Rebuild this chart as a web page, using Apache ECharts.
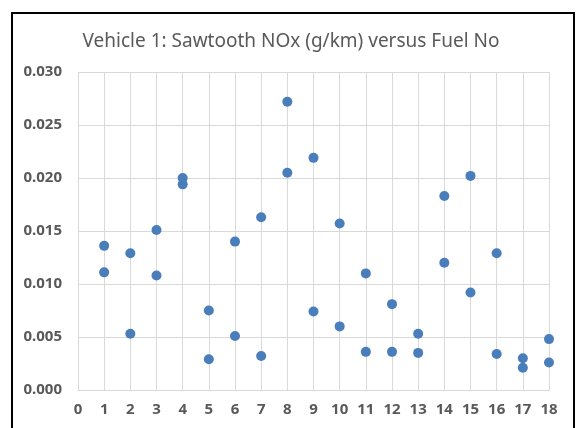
<!DOCTYPE html>
<html>
<head>
<meta charset="utf-8">
<script src="https://cdn.jsdelivr.net/npm/echarts@6/dist/echarts.min.js"></script>
<style>
  html, body { margin: 0; padding: 0; background: #fff; }
  #chart { width: 582px; height: 428px; }
</style>
</head>
<body>
<div id="chart"></div>
<script>
	// 燃料编号 (x) 和 NOx 值 (y), 每个燃料两次测量
	var fuelNo = [1, 1, 2, 2, 3, 3, 4, 4, 5, 5, 6, 6, 7, 7, 8, 8, 9, 9,
		10, 10, 11, 11, 12, 12, 13, 13, 14, 14, 15, 15, 16, 16, 17, 17, 18, 18];
	var noxValues = [0.0136, 0.0111, 0.0129, 0.0053, 0.0151, 0.0108, 0.0200, 0.0194,
		0.0075, 0.0029, 0.0140, 0.0051, 0.0163, 0.0032, 0.0272, 0.0205,
		0.0219, 0.0074, 0.0157, 0.0060, 0.0110, 0.0036, 0.0081, 0.0036,
		0.0053, 0.0035, 0.0183, 0.0120, 0.0202, 0.0092, 0.0129, 0.0034,
		0.0030, 0.0021, 0.0048, 0.0026];
	var yTicks = [0, 0.005, 0.010, 0.015, 0.020, 0.025, 0.030];

	var points = [];
	for (var i = 0; i < fuelNo.length; i++) {
		points.push([fuelNo[i], noxValues[i]]);
	}

	var myChart = echarts.init(document.getElementById('chart'));
	var labelFont = 'Noto Sans';

	var option = {
		animation: false,
		backgroundColor: '#ffffff',
		title: {
			text: 'Vehicle 1: Sawtooth NOx (g/km) versus Fuel No',
			left: 'center',
			top: 27,
			textStyle: {
				fontFamily: labelFont,
				fontSize: 19,
				fontWeight: 'normal',
				color: '#595959'
			}
		},
		grid: {
			left: 78,
			right: 33,
			top: 72,
			bottom: 38
		},
		xAxis: {
			type: 'value',
			min: 0,
			max: 18,
			interval: 1,
			axisLine: { show: true, lineStyle: { color: '#d9d9d9', width: 1 } },
			axisTick: { show: false },
			splitLine: { show: true, lineStyle: { color: '#d9d9d9', width: 1 } },
			axisLabel: {
				margin: 12,
				fontFamily: labelFont,
				fontSize: 15,
				fontWeight: 'bold',
				color: '#595959'
			}
		},
		yAxis: {
			type: 'value',
			min: yTicks[0],
			max: yTicks[yTicks.length - 1],
			interval: 0.005,
			axisLine: { show: false },
			axisTick: { show: false },
			splitLine: { show: true, lineStyle: { color: '#d9d9d9', width: 1 } },
			axisLabel: {
				margin: 16,
				fontFamily: labelFont,
				fontSize: 15,
				fontWeight: 'bold',
				color: '#595959',
				formatter: function (v) { return v.toFixed(3); }
			}
		},
		series: [{
			type: 'scatter',
			data: points,
			symbol: 'circle',
			symbolSize: 10,
			itemStyle: { color: '#4a7ebb', opacity: 1 }
		}],
		graphic: [{
			type: 'rect',
			shape: { x: 12, y: 13, width: 562, height: 440 },
			style: { fill: 'none', stroke: '#000', lineWidth: 2 },
			z: 100
		}]
	};

	myChart.setOption(option);
</script>
</body>
</html>
